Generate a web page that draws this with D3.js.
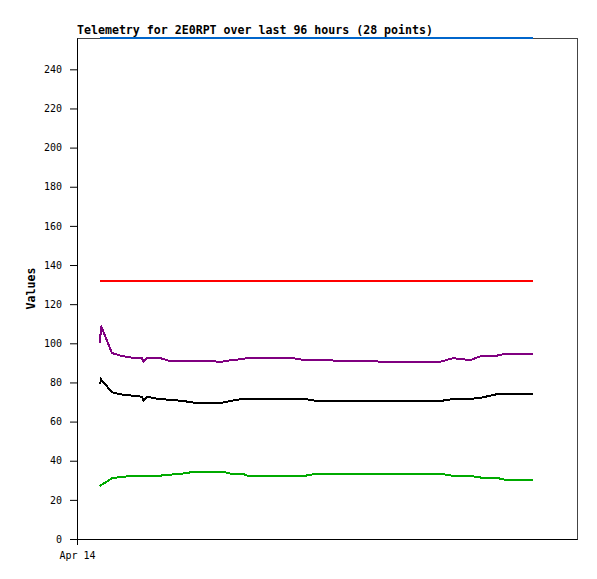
<!DOCTYPE html>
<html>
<head>
<meta charset="utf-8">
<script src="https://cdn.jsdelivr.net/npm/d3@7"></script>
<style>
  html, body { margin: 0; padding: 0; background: #fff; }
  svg { display: block; }
</style>
</head>
<body>
<script>
// ---- data ----
const titleText = "Telemetry for 2E0RPT over last 96 hours (28 points)";
const yLabel = "Values";
const startDate = new Date(2024, 3, 14, 0, 0, 0); // Apr 14
const windowHours = 96;
const hours = [4.42, 4.61, 6.72, 8.45, 10.75, 12.48, 12.77, 13.44, 15.74, 17.47, 20.16, 22.66, 27.84, 29.57,
               31.68, 32.83, 40.9, 43.78, 46.08, 52.42, 62.98, 69.7, 72.19, 75.46, 77.76, 80.45, 82.18, 87.55];
const blueVals   = [256,256,256,256,256,256,256,256,256,256,256,256,256,256,256,256,256,256,256,256,256,256,256,256,256,256,256,256];
const redVals    = [132,132,132,132,132,132,132,132,132,132,132,132,132,132,132,132,132,132,132,132,132,132,132,132,132,132,132,132];
const purpleVals = [100, 109, 95, 93.6, 92.6, 92.3, 90.6, 92.6, 92.6, 91.2, 91.0, 91.0, 90.6, 91.4,
                    91.9, 92.6, 92.6, 91.4, 91.4, 91.0, 90.4, 90.5, 92.4, 91.4, 93.6, 93.6, 94.6, 94.6];
const blackVals  = [79, 81.6, 75, 73.9, 73.2, 72.7, 70.6, 72.7, 71.5, 71.2, 70.6, 69.6, 69.6, 70.6,
                    71.5, 71.5, 71.5, 71.5, 70.5, 70.5, 70.5, 70.5, 71.5, 71.5, 72.3, 73.9, 73.9, 73.9];
const greenVals  = [27, 27.5, 31, 31.7, 32.3, 32.3, 32.3, 32.3, 32.3, 32.8, 33.4, 34.4, 34.4, 33.4,
                    33.4, 32.3, 32.3, 32.3, 33.4, 33.4, 33.4, 33.4, 32.3, 32.3, 31.3, 31.3, 30.3, 30.3];
const yTicks = [0, 20, 40, 60, 80, 100, 120, 140, 160, 180, 200, 220, 240];
const yMax = 256;

const seriesList = [
  { name: "blue",   values: blueVals,   color: "#0066cc" },
  { name: "red",    values: redVals,    color: "#ff0000" },
  { name: "purple", values: purpleVals, color: "#800080" },
  { name: "black",  values: blackVals,  color: "#000000" },
  { name: "green",  values: greenVals,  color: "#00aa00" }
];

// ---- layout ----
const W = 597, H = 579;
const mLeft = 77, mRight = 577, mTop = 38, mBottom = 539;

const svg = d3.select("body").append("svg").attr("width", W).attr("height", H);

const times = hours.map(h => new Date(startDate.getTime() + h * 3600e3));
const x = d3.scaleTime()
  .domain([startDate, new Date(startDate.getTime() + windowHours * 3600e3)])
  .range([mLeft, mRight]);
const y = d3.scaleLinear().domain([0, yMax]).range([mBottom, mTop]);

// frame
svg.append("rect")
  .attr("x", mLeft + 0.5).attr("y", mTop + 0.5)
  .attr("width", mRight - mLeft).attr("height", mBottom - mTop)
  .attr("fill", "none").attr("stroke", "#444").attr("stroke-width", 1);

const monoFont = "'DejaVu Sans Mono', 'Liberation Mono', monospace";

// y axis
const yAxis = d3.axisLeft(y).tickValues(yTicks).tickSize(7).tickPadding(8).tickSizeOuter(0);
const gy = svg.append("g").attr("transform", `translate(${mLeft},0)`).call(yAxis);
gy.selectAll("line").attr("stroke", "#000");
gy.select(".domain").attr("stroke", "#000");
gy.selectAll("text").attr("font-family", monoFont).attr("font-size", "10px").attr("fill", "#000");

// x axis
const xAxis = d3.axisBottom(x).tickValues([startDate]).tickFormat(d3.timeFormat("%b %d"))
  .tickSize(6).tickPadding(7).tickSizeOuter(0);
const gx = svg.append("g").attr("transform", `translate(0,${mBottom})`).call(xAxis);
gx.selectAll("line").attr("stroke", "#000");
gx.select(".domain").attr("stroke", "#000");
gx.selectAll("text").attr("font-family", monoFont).attr("font-size", "10px").attr("fill", "#000");

// lines
const line = d3.line().x((d, i) => x(times[i])).y(d => y(d));
seriesList.forEach(s => {
  svg.append("path")
    .datum(s.values)
    .attr("d", line)
    .attr("fill", "none")
    .attr("stroke", s.color)
    .attr("stroke-width", 2)
    .attr("shape-rendering", "crispEdges");
});

// title
svg.append("text")
  .attr("x", mLeft).attr("y", 34)
  .attr("font-family", monoFont).attr("font-weight", "bold").attr("font-size", "11.6px")
  .attr("fill", "#000")
  .text(titleText);

// y label
svg.append("text")
  .attr("transform", `translate(35,${(mTop + mBottom) / 2}) rotate(-90)`)
  .attr("text-anchor", "middle")
  .attr("font-family", monoFont).attr("font-weight", "bold").attr("font-size", "11.6px")
  .attr("fill", "#000")
  .text(yLabel);
</script>
</body>
</html>
